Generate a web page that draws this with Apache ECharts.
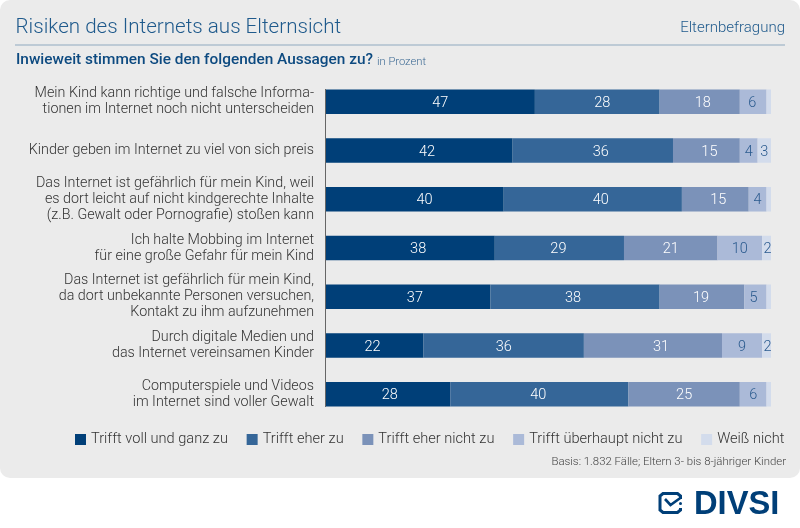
<!DOCTYPE html>
<html><head><meta charset="utf-8">
<style>html,body{margin:0;padding:0;background:#fff}#c{width:800px;height:528px}</style>
<script src="https://cdn.jsdelivr.net/npm/echarts@6/dist/echarts.min.js"></script>
</head><body><div id="c"></div>
<script>
const categories = [
 "Mein Kind kann richtige und falsche Informa-\ntionen im Internet noch nicht unterscheiden",
 "Kinder geben im Internet zu viel von sich preis",
 "Das Internet ist gefährlich für mein Kind, weil\nes dort leicht auf nicht kindgerechte Inhalte\n(z.B. Gewalt oder Pornografie) stoßen kann",
 "Ich halte Mobbing im Internet\nfür eine große Gefahr für mein Kind",
 "Das Internet ist gefährlich für mein Kind,\nda dort unbekannte Personen versuchen,\nKontakt zu ihm aufzunehmen",
 "Durch digitale Medien und\ndas Internet vereinsamen Kinder",
 "Computerspiele und Videos\nim Internet sind voller Gewalt"
];
const seriesNames = ["Trifft voll und ganz zu","Trifft eher zu","Trifft eher nicht zu","Trifft überhaupt nicht zu","Weiß nicht"];
const vollUndGanz = [47,42,40,38,37,22,28];
const eherZu      = [28,36,40,29,38,36,40];
const eherNicht   = [18,15,15,21,19,31,25];
const ueberhaupt  = [6,4,4,10,5,9,6];
const weissNicht  = [1,3,1,2,1,2,1];
const seriesValues = [vollUndGanz,eherZu,eherNicht,ueberhaupt,weissNicht];
const colors = ["#003f78","#356698","#7b92b9","#abbad8","#d3dcec"];
const labelColors = ["#fff","#fff","#fff","#2a5a8e","#2a5a8e"];
// horizontal nudges of the value labels (the reference does not centre them)
const labelNudge = [
 [10,8,10,8,7,-2,2],
 [5,8,8,-1,-2,0,-1],
 [3,3,3,0,-1,8,0],
 [-1,0,0,0,-2,0,0],
 [0,0,0,1,0,1,0]
];
const FONT = "Roboto";
const chart = echarts.init(document.getElementById('c'));
chart.setOption({
 animation:false,
 backgroundColor:'#fff',
 color:colors,
 title:{text:"Risiken des Internets aus Elternsicht",left:10.5,top:12,textStyle:{fontFamily:FONT,fontWeight:300,fontSize:20.6,color:'#1f5a8c'}},
 legend:{left:70,top:427,itemWidth:11,itemHeight:11,itemGap:18.7,icon:'rect',
   textStyle:{fontFamily:FONT,fontWeight:300,fontSize:14.6,color:'#333'},
   data:seriesNames},
 grid:{left:325.5,right:29,top:77.4,height:341.25},
 xAxis:{type:'value',min:0,max:100,show:false},
 yAxis:{type:'category',inverse:true,data:categories,
   axisLine:{show:false},axisTick:{show:false},
   axisLabel:{margin:11.5,align:'right',padding:[4,0,0,0],fontFamily:FONT,fontWeight:300,fontSize:14.3,lineHeight:16,color:'#333'}},
 series:seriesValues.map((v,i)=>({
   name:seriesNames[i],type:'bar',stack:'all',barWidth:24.5,
   data:v.map((x,j)=>({value:x,label:{offset:[labelNudge[i][j],1.5]}})),
   label:{show:true,position:'inside',fontFamily:FONT,fontWeight:300,fontSize:14.5,color:labelColors[i],
     formatter:p=>p.value>1?String(p.value):''}
 })),
 graphic:[
  {type:'rect',z:-10,shape:{x:0,y:0,width:800,height:478,r:10},style:{fill:'#ebebeb'}},
  {type:'line',z:-5,shape:{x1:15,y1:45,x2:785,y2:45},style:{stroke:'#8fa9c0',lineWidth:1.2}},
  {type:'line',z:5,shape:{x1:325.5,y1:89,x2:325.5,y2:407},style:{stroke:'#666',lineWidth:1}},
  {type:'text',x:785,y:21,style:{text:"Elternbefragung",align:'right',font:'300 15px '+FONT,fill:'#1f5a8c'}},
  {type:'text',x:16,y:53,style:{text:"Inwieweit stimmen Sie den folgenden Aussagen zu?",font:'500 15.4px '+FONT,fill:'#0d4a80'}},
  {type:'text',x:377,y:57,style:{text:"in Prozent",font:'300 11.2px '+FONT,fill:'#3d6a94'}},
  {type:'text',x:786,y:457,style:{text:"Basis: 1.832 Fälle; Eltern 3- bis 8-jähriger Kinder",align:'right',font:'300 11.4px '+FONT,fill:'#444'}},
  {type:'polyline',shape:{points:[[680.5,499],[680.5,496],[677.5,493.5],[663,493.5],[660,496],[660,510],[663,512.5],[677.5,512.5],[680.5,510],[680.5,508]]},style:{fill:'none',stroke:'#003f78',lineWidth:3}},
  {type:'polyline',shape:{points:[[665,499],[670.5,505],[681,497.5]]},style:{fill:'none',stroke:'#003f78',lineWidth:2.6}},
  {type:'circle',shape:{cx:680.5,cy:503.5,r:1.5},style:{fill:'#003f78'}},
  {type:'text',x:694,y:488,style:{text:"DIVSI",font:'700 32.7px "Liberation Sans"',fill:'#003f78'}}
 ]
});
</script></body></html>
